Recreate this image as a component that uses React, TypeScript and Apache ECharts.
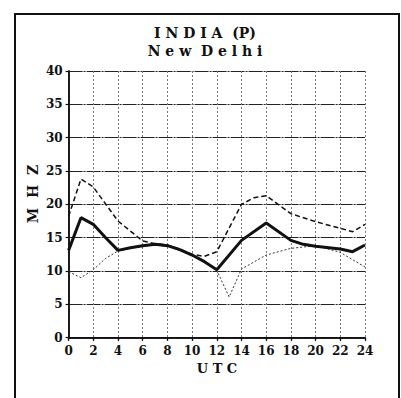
import React, { useEffect, useRef } from "react";
import * as echarts from "echarts";

// Hourly MHz curves for the New Delhi path (UTC hours on x)
const solidHours = [0, 1, 2, 3, 4, 5, 6, 7, 8, 9, 10, 11, 12, 14, 16, 18, 19, 20, 22, 23, 24];
const solidMHz = [13.1, 18.0, 17.0, 15.0, 13.1, 13.5, 13.8, 14.0, 13.8, 13.2, 12.4, 11.4, 10.2, 14.6, 17.2, 14.6, 14.0, 13.7, 13.3, 12.9, 13.9];

const dashedHours = [0, 1, 2, 4, 6, 7, 8, 9, 10, 11, 12, 14, 15, 16, 18, 20, 22, 23, 24];
const dashedMHz = [18.2, 23.8, 22.6, 17.5, 14.5, 14.1, 13.9, 13.3, 12.5, 12.2, 12.9, 20.0, 21.0, 21.3, 18.6, 17.4, 16.4, 15.9, 17.0];

const dottedHours = [0, 1, 2, 3, 4, 5, 6, 7, 8, 9, 10, 11, 12, 13, 14, 16, 18, 20, 22, 24];
const dottedMHz = [9.9, 9.0, 10.2, 11.9, 13.0, 13.4, 13.7, 13.9, 13.7, 13.1, 12.3, 11.3, 10.1, 6.1, 10.3, 12.4, 13.4, 13.8, 12.8, 10.6];

const titleLine1 = "I N D I A  (P)";
const titleLine2 = "N e w  D e l h i";
const xName = "U T C";
const yName = "M  H  Z";

const FONT = "'DejaVu Serif', 'Liberation Serif', serif";

const pairs = (xs: number[], ys: number[]) => xs.map((x, i) => [x, ys[i]]);

export default function App() {
  const ref = useRef<HTMLDivElement>(null);

  useEffect(() => {
    if (!ref.current) return;
    const chart = echarts.init(ref.current, undefined, { renderer: "svg" });
    const axisLine = { show: true, lineStyle: { color: "#111", width: 1.5 } };
    const labelStyle = { color: "#111", fontFamily: FONT, fontWeight: "bold" as const, fontSize: 12 };

    chart.setOption({
      animation: false,
      backgroundColor: "#fff",
      grid: { left: 68.6, right: 36, top: 71, bottom: 60.3 },
      graphic: [
        {
          type: "rect",
          shape: { x: 15, y: 14, width: 384, height: 400 },
          style: { fill: "none", stroke: "#111", lineWidth: 2 },
          silent: true,
        },
        {
          type: "text",
          x: 205,
          y: 33,
          style: { text: titleLine1, font: `bold 14px ${FONT}`, fill: "#111", textAlign: "center", textVerticalAlign: "middle" },
        },
        {
          type: "text",
          x: 205,
          y: 51,
          style: { text: titleLine2, font: `bold 14px ${FONT}`, fill: "#111", textAlign: "center", textVerticalAlign: "middle" },
        },
        {
          type: "text",
          x: 217,
          y: 368,
          style: { text: xName, font: `bold 13px ${FONT}`, fill: "#111", textAlign: "center", textVerticalAlign: "middle" },
        },
        {
          type: "text",
          x: 33,
          y: 194,
          rotation: Math.PI / 2,
          style: { text: yName, font: `bold 14px ${FONT}`, fill: "#111", textAlign: "center", textVerticalAlign: "middle" },
        },
      ],
      xAxis: [
        {
          type: "value",
          min: 0,
          max: 24,
          interval: 2,
          position: "bottom",
          axisLine,
          axisTick: { show: true, length: 3, lineStyle: { color: "#111", width: 1.2 } },
          axisLabel: { ...labelStyle, margin: 7 },
          splitLine: { show: true, lineStyle: { color: "#777", width: 1, type: [2, 2] } },
        },
        {
          type: "value",
          min: 0,
          max: 24,
          interval: 2,
          position: "top",
          axisLine,
          axisTick: { show: true, inside: true, length: 3, lineStyle: { color: "#111", width: 1.2 } },
          axisLabel: { show: false },
          splitLine: { show: false },
        },
      ],
      yAxis: [
        {
          type: "value",
          min: 0,
          max: 40,
          interval: 5,
          position: "left",
          axisLine,
          axisTick: { show: true, length: 3, lineStyle: { color: "#111", width: 1.2 } },
          axisLabel: { ...labelStyle, margin: 6 },
          splitLine: { show: true, lineStyle: { color: "#222", width: 1.2, type: [14, 1, 2, 1] } },
        },
        {
          type: "value",
          min: 0,
          max: 40,
          interval: 5,
          position: "right",
          axisLine,
          axisTick: { show: false },
          axisLabel: { show: false },
          splitLine: { show: false },
        },
      ],
      series: [
        {
          type: "line",
          data: pairs(dottedHours, dottedMHz),
          showSymbol: false,
          lineStyle: { color: "#333", width: 1, type: [2, 2] },
          z: 2,
        },
        {
          type: "line",
          data: pairs(dashedHours, dashedMHz),
          showSymbol: false,
          lineStyle: { color: "#111", width: 1.5, type: [5, 3] },
          z: 3,
        },
        {
          type: "line",
          data: pairs(solidHours, solidMHz),
          showSymbol: false,
          lineStyle: { color: "#111", width: 3 },
          z: 4,
        },
      ],
    });
    return () => chart.dispose();
  }, []);

  return (
    <div
      ref={ref}
      style={{ position: "fixed", left: 0, top: 0, width: 401, height: 398, background: "#fff" }}
    />
  );
}
